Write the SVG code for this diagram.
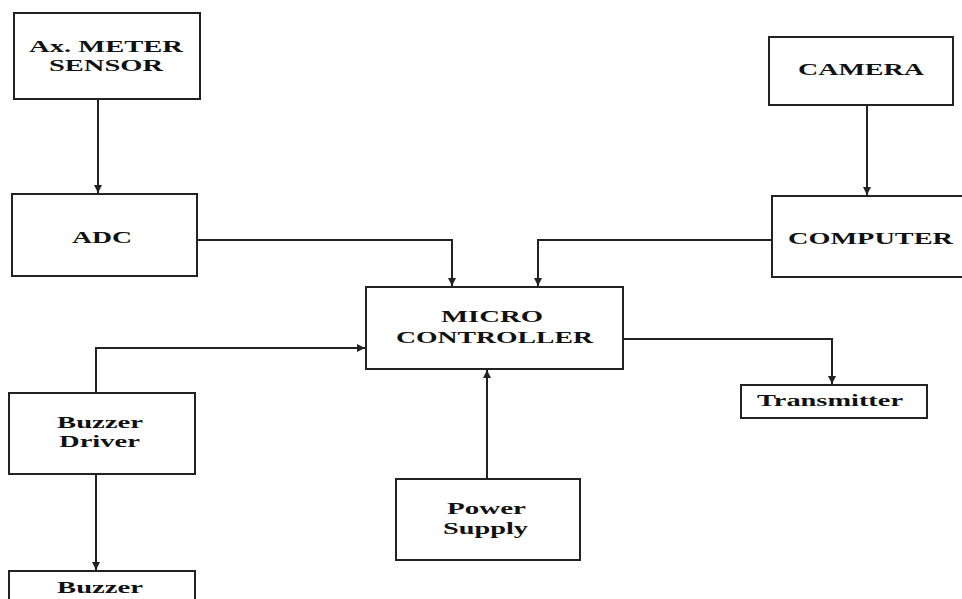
<svg xmlns="http://www.w3.org/2000/svg" width="962" height="599" viewBox="0 0 962 599">
<style>
.box{fill:#fff;stroke:#222;stroke-width:2}
.ln{fill:none;stroke:#222;stroke-width:2}
text{font-family:"Liberation Serif","Times New Roman",serif;font-weight:bold;font-size:17px;fill:#111}
</style>
<defs>
<marker id="ah" markerWidth="10" markerHeight="10" refX="9" refY="5" orient="auto" markerUnits="userSpaceOnUse">
<path d="M1,1 L9,5 L1,9 Z" fill="#222"/>
</marker>
</defs>
<rect width="962" height="599" fill="#fff"/>
<g id="connectors">
<path class="ln" d="M98,99 V193" marker-end="url(#ah)"/>
<path class="ln" d="M867,105 V195" marker-end="url(#ah)"/>
<path class="ln" d="M197,240 H452 V286" marker-end="url(#ah)"/>
<path class="ln" d="M772,240 H538 V286" marker-end="url(#ah)"/>
<path class="ln" d="M96,393 V348 H365" marker-end="url(#ah)"/>
<path class="ln" d="M96,474 V570" marker-end="url(#ah)"/>
<path class="ln" d="M487,479 V370" marker-end="url(#ah)"/>
<path class="ln" d="M623,339 H832 V384" marker-end="url(#ah)"/>
</g>
<g id="sensor">
<rect class="box" x="14" y="13" width="186" height="86"/>
<text x="29" y="52" textLength="154" lengthAdjust="spacingAndGlyphs">Ax. METER</text>
<text x="49" y="71" textLength="114" lengthAdjust="spacingAndGlyphs">SENSOR</text>
</g>
<g id="adc">
<rect class="box" x="12" y="194" width="185" height="82"/>
<text x="72" y="243" textLength="60" lengthAdjust="spacingAndGlyphs">ADC</text>
</g>
<g id="camera">
<rect class="box" x="769" y="37" width="184" height="68"/>
<text x="798" y="75" textLength="126" lengthAdjust="spacingAndGlyphs">CAMERA</text>
</g>
<g id="computer">
<rect class="box" x="772" y="196" width="200" height="81"/>
<text x="788" y="244" textLength="165" lengthAdjust="spacingAndGlyphs">COMPUTER</text>
</g>
<g id="micro">
<rect class="box" x="366" y="287" width="257" height="82"/>
<text x="441" y="322" textLength="102" lengthAdjust="spacingAndGlyphs">MICRO</text>
<text x="396" y="343" textLength="197" lengthAdjust="spacingAndGlyphs">CONTROLLER</text>
</g>
<g id="transmitter">
<rect class="box" x="741" y="385" width="186" height="33"/>
<text x="757" y="406" textLength="146" lengthAdjust="spacingAndGlyphs">Transmitter</text>
</g>
<g id="buzzer-driver">
<rect class="box" x="9" y="393" width="186" height="81"/>
<text x="57" y="428" textLength="86" lengthAdjust="spacingAndGlyphs">Buzzer</text>
<text x="59" y="447" textLength="81" lengthAdjust="spacingAndGlyphs">Driver</text>
</g>
<g id="power">
<rect class="box" x="396" y="479" width="184" height="81"/>
<text x="447" y="514" textLength="79" lengthAdjust="spacingAndGlyphs">Power</text>
<text x="443" y="534" textLength="85" lengthAdjust="spacingAndGlyphs">Supply</text>
</g>
<g id="buzzer">
<rect class="box" x="9" y="571" width="186" height="40"/>
<text x="57" y="593" textLength="86" lengthAdjust="spacingAndGlyphs">Buzzer</text>
</g>
</svg>
